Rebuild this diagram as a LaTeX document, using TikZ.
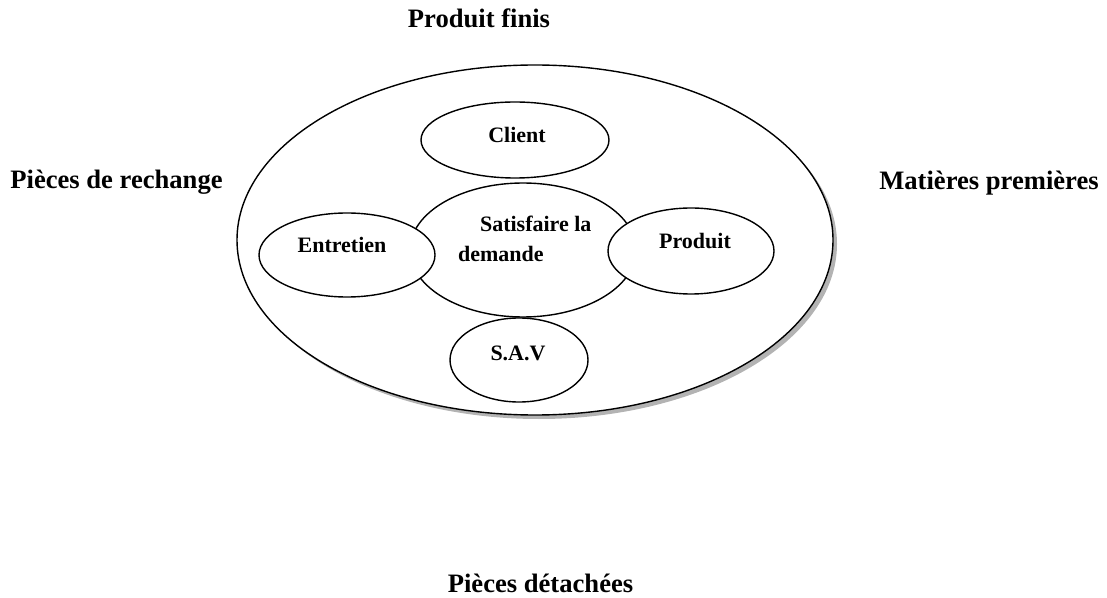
\documentclass[tikz,border=0pt]{standalone}
\usepackage{fontspec}
\setmainfont{Liberation Serif}
\usetikzlibrary{shapes.geometric,shadows}

\tikzset{
  bubble/.style={draw, ellipse, fill=white, line width=0.7pt, inner sep=0pt},
  sidelabel/.style={font=\fontsize{13.3}{16}\selectfont\bfseries, anchor=base},
  bubbletext/.style={font=\fontsize{11}{14}\selectfont\bfseries, anchor=base}
}

\begin{document}
\begin{tikzpicture}[x=0.5pt, y=-0.5pt]
\useasboundingbox (0,0) rectangle (1107,598);

% outer ring with its shadow
\node[bubble, minimum width=298pt, minimum height=175pt,
  drop shadow={shadow xshift=2pt, shadow yshift=-2pt, opacity=0.6}] (ring) at (535,240) {};

% centre and the four around it
\node[bubble, minimum width=113pt, minimum height=67pt] (demande) at (523,250) {};
\node[bubble, minimum width=94pt, minimum height=38pt] (client) at (515,140) {};
\node[bubble, minimum width=88pt, minimum height=42pt] (entretien) at (347,255) {};
\node[bubble, minimum width=83pt, minimum height=43pt] (produit) at (691,251) {};
\node[bubble, minimum width=69pt, minimum height=42pt] (sav) at (519,360) {};

\node[bubbletext, anchor=base west] (demandeA) at (473,232) {Satisfaire la};
\node[bubbletext, anchor=base west] (demandeB) at (451,262) {demande};
\node[bubbletext] (clientText) at (517,143) {Client};
\node[bubbletext] (entretienText) at (342,253) {Entretien};
\node[bubbletext] (produitText) at (695,249) {Produit};
\node[bubbletext] (savText) at (518,360) {S.A.V};

% labels round the ring
\node[sidelabel] (finis) at (479,28) {Produit finis};
\node[sidelabel] (rechange) at (116.5,189) {Pièces de rechange};
\node[sidelabel] (matieres) at (989,190) {Matières premières};
\node[sidelabel] (detachees) at (540.5,592) {Pièces détachées};
\end{tikzpicture}
\end{document}
